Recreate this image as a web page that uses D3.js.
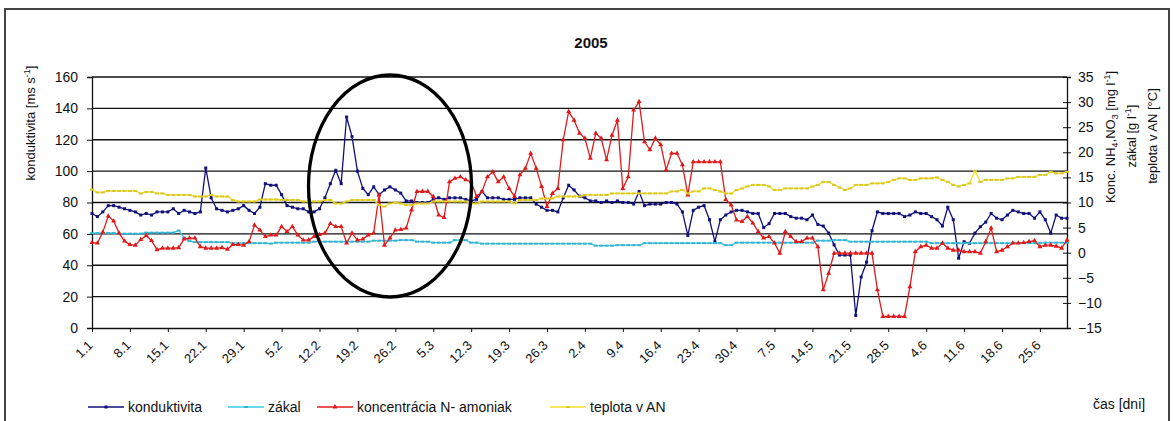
<!DOCTYPE html>
<html>
<head>
<meta charset="utf-8">
<script src="https://cdn.jsdelivr.net/npm/d3@7"></script>
<style>
  body { margin: 0; background: #fff; }
  svg { font-family: "Liberation Sans", Arial, sans-serif; }
</style>
</head>
<body>
<script>
// daily readings 1.1.2005 - 30.6.2005
const days = d3.timeDay.range(new Date(2005, 0, 1), new Date(2005, 6, 1));
const categories = days.map(d3.timeFormat("%-d.%-m"));
const tickLabels = ["1.1","8.1","15.1","22.1","29.1","5.2","12.2","19.2","26.2","5.3","12.3","19.3","26.3",
  "2.4","9.4","16.4","23.4","30.4","7.5","14.5","21.5","28.5","4.6","11.6","18.6","25.6"];

// konduktivita [ms s-1] (left axis)
const konduktivita = [
  73, 71, 74, 78, 78, 77, 76, 75, 74, 72,
  73, 72, 74, 74, 74, 76, 73, 75, 74, 73,
  74, 102, 83, 76, 75, 74, 75, 76, 78, 75,
  73, 77, 92, 91, 91, 85, 78, 77, 76, 76,
  74, 74, 76, 83, 92, 100.5, 92, 134.5, 122, 100,
  89, 85, 90, 85, 88, 90, 88, 86, 81, 81,
  80, 80, 80, 82, 83, 82, 83, 83, 83, 82,
  81, 82, 87, 83, 83, 83, 82, 82, 82, 83,
  83, 83, 79, 77, 75, 75, 74, 83, 91, 88,
  84, 83, 81, 81, 80, 81, 80, 81, 80, 80,
  79, 87, 78, 79, 79, 79, 80, 80, 79, 74,
  59, 75, 77, 78, 69, 55, 69, 72, 74, 75,
  75, 74, 73, 73, 64, 66.5, 73, 73, 73, 71,
  70, 70, 69, 72, 66, 65, 60.5, 53, 46.5, 46.5,
  46.5, 8, 32.5, 42, 62, 74, 73, 73, 73, 73,
  71, 72, 74, 73, 73, 71, 69, 65, 77, 69,
  44.5, 55, 54, 60.5, 64.5, 67.5, 73, 70, 69, 72,
  75, 74, 73, 73, 70, 74, 69, 60.5, 72, 70,
  70
];

// zákal [g l-1] (right axis)
const zakal = [
  3.9, 3.9, 3.9, 3.9, 3.9, 3.8, 3.8, 3.8, 3.8, 3.8,
  4.0, 4.0, 4.0, 4.0, 4.0, 4.0, 4.4, 3.0, 2.3, 2.1,
  2.1, 2.1, 2.1, 2.1, 2.1, 2.1, 1.9, 1.9, 1.9, 1.9,
  1.9, 1.9, 1.9, 1.8, 2.0, 2.0, 2.0, 2.0, 2.0, 2.0,
  2.0, 2.2, 2.2, 2.2, 2.2, 2.2, 2.2, 2.2, 2.2, 2.2,
  2.2, 2.2, 2.4, 2.4, 2.4, 2.4, 2.4, 2.5, 2.5, 2.5,
  2.2, 2.2, 2.2, 2.0, 2.0, 2.0, 2.0, 2.5, 2.5, 2.5,
  2.0, 2.0, 1.8, 1.8, 1.8, 1.8, 1.8, 1.8, 1.8, 1.8,
  1.8, 1.8, 1.8, 1.8, 1.8, 1.8, 1.8, 1.8, 1.8, 1.8,
  1.8, 1.8, 1.8, 1.4, 1.4, 1.4, 1.4, 1.5, 1.5, 1.5,
  1.5, 1.5, 1.9, 1.9, 1.9, 1.9, 1.9, 1.9, 1.9, 1.9,
  1.9, 1.9, 1.9, 1.9, 1.9, 1.9, 1.9, 1.5, 1.5, 2.0,
  2.0, 2.0, 2.0, 2.0, 2.0, 2.0, 2.0, 2.0, 2.0, 2.0,
  2.0, 2.0, 2.0, 2.0, 2.4, 2.4, 2.4, 2.5, 2.5, 2.5,
  2.2, 2.2, 2.2, 2.2, 2.2, 2.2, 2.2, 2.2, 2.2, 2.2,
  2.2, 2.2, 2.2, 2.2, 2.2, 1.9, 1.9, 1.9, 1.9, 1.9,
  1.9, 1.9, 1.9, 1.9, 1.9, 1.9, 1.9, 1.9, 1.9, 1.9,
  1.9, 1.9, 1.9, 1.9, 1.9, 1.9, 2.0, 2.0, 2.0, 2.0,
  2.0
];

// koncentrácia N- amoniak [mg l-1] (right axis)
const amoniak = [
  2.0, 1.9, 4.1, 7.3, 6.3, 3.9, 2.3, 1.6, 1.5, 2.6,
  3.4, 2.4, 0.6, 0.9, 0.9, 0.9, 1.0, 2.7, 2.9, 2.9,
  1.2, 0.9, 0.9, 0.9, 1.0, 0.7, 1.6, 1.6, 1.5, 2.2,
  5.5, 4.5, 3.2, 3.5, 3.5, 5.2, 4.2, 5.2, 3.5, 2.5,
  2.5, 3.2, 3.6, 3.9, 5.8, 5.2, 5.2, 1.9, 3.9, 2.5,
  2.7, 3.5, 3.9, 11.5, 1.5, 2.9, 4.5, 4.6, 4.9, 8.5,
  12.2, 12.2, 12.2, 11.2, 7.5, 7.0, 14.1, 14.8, 15.1, 14.5,
  14.1, 11.2, 12.2, 15.1, 16.1, 14.1, 15.1, 12.8, 11.2, 15.5,
  16.8, 19.8, 16.8, 13.2, 9.2, 11.8, 12.8, 22.5, 28.1, 26.4,
  23.8, 22.8, 18.8, 23.8, 22.8, 18.5, 23.4, 26.4, 12.8, 15.1,
  28.4, 30.1, 22.1, 20.5, 22.8, 21.5, 16.5, 19.8, 19.8, 17.5,
  11.5, 18.1, 18.1, 18.1, 18.1, 18.1, 18.1, 10.6, 9.5, 6.5,
  6.2, 7.2, 5.9, 4.2, 2.9, 3.2, 1.9, -0.1, 4.2, 3.2,
  2.2, 2.2, 2.9, 2.9, 1.2, -7.4, -4.1, -0.1, -0.1, -0.1,
  -0.1, -0.1, -0.1, -0.1, -0.1, -7.4, -12.7, -12.7, -12.7, -12.7,
  -12.7, -6.8, 0.2, 1.2, 1.5, 0.9, 0.9, 1.9, 0.9, 0.5,
  0.5, 0.2, 0.2, 0.2, -0.1, 2.2, 4.9, 0.2, 0.5, 1.2,
  1.9, 1.9, 2.0, 2.2, 2.4, 1.2, 1.5, 1.5, 1.3, 0.9,
  2.5
];

// teplota v AN [°C] (right axis)
const teplota = [
  12.6, 12.0, 12.0, 12.3, 12.3, 12.3, 12.3, 12.3, 12.3, 11.8,
  12.1, 12.1, 11.8, 11.8, 11.5, 11.5, 11.5, 11.5, 11.5, 11.2,
  11.2, 11.2, 11.5, 11.2, 11.2, 11.2, 10.5, 10.2, 10.2, 10.2,
  10.2, 10.6, 10.6, 10.6, 10.6, 10.5, 10.5, 10.5, 10.5, 10.2,
  10.2, 10.2, 10.2, 10.5, 10.5, 9.8, 9.8, 10.2, 10.5, 10.5,
  10.5, 10.5, 10.5, 9.5, 9.2, 9.8, 10.0, 9.8, 9.5, 9.5,
  9.8, 9.8, 9.8, 10.2, 10.2, 10.2, 10.2, 10.2, 10.2, 10.2,
  9.8, 9.8, 10.2, 10.2, 10.2, 10.2, 10.2, 10.2, 9.8, 10.5,
  10.5, 10.5, 10.5, 10.8, 10.8, 10.8, 11.2, 11.2, 11.2, 11.2,
  11.2, 11.5, 11.5, 11.5, 11.5, 11.5, 11.8, 11.8, 11.8, 11.8,
  11.8, 11.8, 11.8, 11.8, 11.8, 11.8, 11.8, 12.2, 12.2, 12.5,
  11.8, 12.2, 12.2, 12.8, 12.8, 12.5, 12.2, 11.8, 11.8, 12.5,
  12.8, 13.2, 13.5, 13.5, 13.5, 13.2, 12.5, 12.5, 12.8, 12.8,
  12.8, 12.8, 12.8, 13.2, 13.5, 14.1, 14.1, 13.5, 13.0, 12.5,
  12.8, 13.5, 13.5, 13.5, 13.8, 13.8, 13.8, 14.1, 14.5, 14.8,
  14.8, 14.5, 14.5, 14.8, 14.8, 14.8, 15.0, 14.5, 14.1, 13.5,
  13.2, 13.5, 13.8, 16.3, 14.1, 14.5, 14.5, 14.5, 14.5, 14.8,
  14.8, 15.1, 15.1, 15.1, 15.1, 15.5, 15.5, 16.1, 15.8, 15.8,
  16.1
];

const width = 1174, height = 421;
const plotLeft = 92, plotRight = 1067, plotTop = 77, plotBottom = 328;

const svg = d3.select("body").append("svg")
  .attr("width", width)
  .attr("height", height);

svg.append("rect").attr("width", width).attr("height", height).attr("fill", "#fff");

// outer frame
svg.append("rect")
  .attr("x", 5).attr("y", 9)
  .attr("width", 1164).attr("height", 430)
  .attr("fill", "none")
  .attr("stroke", "#444")
  .attr("stroke-width", 2);

const x = d3.scalePoint().domain(categories).range([plotLeft, plotRight]);
const yL = d3.scaleLinear().domain([0, 160]).range([plotBottom, plotTop]);
const yR = d3.scaleLinear().domain([-15, 35]).range([plotBottom, plotTop]);

// gridlines
svg.append("g")
  .selectAll("line")
  .data(d3.range(20, 161, 20))
  .join("line")
  .attr("x1", plotLeft).attr("x2", plotRight)
  .attr("y1", d => yL(d)).attr("y2", d => yL(d))
  .attr("stroke", "#111")
  .attr("stroke-width", 1.3);

// left axis
svg.append("g")
  .attr("transform", `translate(${plotLeft},0)`)
  .call(d3.axisLeft(yL).tickValues(d3.range(0, 161, 20)).tickSize(5).tickPadding(9))
  .call(g => g.select(".domain").attr("stroke", "#111").attr("stroke-width", 1.3))
  .call(g => g.selectAll(".tick line").attr("stroke", "#111"))
  .call(g => g.selectAll("text").attr("font-size", 14).attr("fill", "#111").attr("font-family", null));

// right axis
svg.append("g")
  .attr("transform", `translate(${plotRight},0)`)
  .call(d3.axisRight(yR).tickValues(d3.range(-15, 36, 5)).tickSize(4).tickPadding(7))
  .call(g => g.select(".domain").attr("stroke", "#111").attr("stroke-width", 1.3))
  .call(g => g.selectAll(".tick line").attr("x1", -4).attr("stroke", "#111"))
  .call(g => g.selectAll("text").attr("font-size", 14).attr("fill", "#111").attr("font-family", null));

// bottom axis
svg.append("g")
  .attr("transform", `translate(0,${plotBottom})`)
  .call(d3.axisBottom(x).tickValues(tickLabels).tickSize(4).tickSizeOuter(0))
  .call(g => g.select(".domain").attr("stroke", "#111").attr("stroke-width", 1.3))
  .call(g => g.selectAll(".tick line").attr("stroke", "#111"))
  .call(g => g.selectAll("text")
    .attr("font-size", 13).attr("fill", "#111").attr("font-family", null)
    .attr("text-anchor", "end")
    .attr("x", -12).attr("y", 9).attr("dy", "0.35em")
    .attr("transform", "rotate(-45)"));

// series
const series = [
  { name: "konduktivita", values: konduktivita, y: yL, color: "#10107a", marker: "square" },
  { name: "zákal", values: zakal, y: yR, color: "#3cc8e6", marker: "dash" },
  { name: "koncentrácia N- amoniak", values: amoniak, y: yR, color: "#e01a1a", marker: "triangle" },
  { name: "teplota v AN", values: teplota, y: yR, color: "#f2df2a", marker: "dash" }
];

const tri = d3.symbol().type(d3.symbolTriangle).size(11);

function drawMarker(sel, s) {
  if (s.marker === "triangle") {
    sel.append("path").attr("d", tri).attr("fill", s.color);
  } else if (s.marker === "square") {
    sel.append("rect").attr("x", -1.5).attr("y", -1.5).attr("width", 3).attr("height", 3).attr("fill", s.color);
  } else {
    sel.append("rect").attr("x", -2).attr("y", -1).attr("width", 4).attr("height", 2).attr("fill", d3.color(s.color).darker(0.3));
  }
}

series.forEach(s => {
  const g = svg.append("g");
  const line = d3.line()
    .x((d, i) => x(categories[i]))
    .y(d => s.y(d));
  g.append("path")
    .datum(s.values)
    .attr("d", line)
    .attr("fill", "none")
    .attr("stroke", s.color)
    .attr("stroke-width", 1.3);
  g.selectAll("g.pt")
    .data(s.values)
    .join("g")
    .attr("class", "pt")
    .attr("transform", (d, i) => `translate(${x(categories[i])},${s.y(d)})`)
    .each(function() { drawMarker(d3.select(this), s); });
});

// highlight ellipse
svg.append("ellipse")
  .attr("cx", 390).attr("cy", 186)
  .attr("rx", 81.5).attr("ry", 111)
  .attr("fill", "none")
  .attr("stroke", "#000")
  .attr("stroke-width", 3.3);

// title
svg.append("text")
  .attr("x", 591).attr("y", 48)
  .attr("text-anchor", "middle")
  .attr("font-size", 15).attr("font-weight", "bold")
  .attr("fill", "#111")
  .text("2005");

// axis titles
const lt = svg.append("text")
  .attr("transform", "translate(35,123) rotate(-90)")
  .attr("text-anchor", "middle")
  .attr("font-size", 13).attr("fill", "#111");
lt.append("tspan").text("konduktivita [ms s");
lt.append("tspan").attr("font-size", 9).attr("dy", -5).text("-1");
lt.append("tspan").attr("dy", 5).text("]");

const r1 = svg.append("text")
  .attr("transform", "translate(1115,137) rotate(-90)")
  .attr("text-anchor", "middle")
  .attr("font-size", 13).attr("fill", "#111");
r1.append("tspan").text("Konc. NH");
r1.append("tspan").attr("font-size", 9).attr("dy", 3).text("4");
r1.append("tspan").attr("dy", -3).text(",NO");
r1.append("tspan").attr("font-size", 9).attr("dy", 3).text("3");
r1.append("tspan").attr("dy", -3).text("  [mg l");
r1.append("tspan").attr("font-size", 9).attr("dy", -5).text("-1");
r1.append("tspan").attr("dy", 5).text("]");

const r2 = svg.append("text")
  .attr("transform", "translate(1136,136) rotate(-90)")
  .attr("text-anchor", "middle")
  .attr("font-size", 13).attr("fill", "#111");
r2.append("tspan").text("zákal [g l");
r2.append("tspan").attr("font-size", 9).attr("dy", -5).text("-1");
r2.append("tspan").attr("dy", 5).text("]");

svg.append("text")
  .attr("transform", "translate(1157,136) rotate(-90)")
  .attr("text-anchor", "middle")
  .attr("font-size", 13).attr("fill", "#111")
  .text("teplota v AN [°C]");

svg.append("text")
  .attr("x", 1093).attr("y", 409)
  .attr("font-size", 14).attr("fill", "#111")
  .text("čas [dni]");

// legend
const legendX = [88, 228, 317, 550];
const legend = svg.append("g")
  .selectAll("g")
  .data(series)
  .join("g")
  .attr("transform", (d, i) => `translate(${legendX[i]},407)`);
legend.append("line")
  .attr("x1", 0).attr("x2", 36)
  .attr("stroke", d => d.color)
  .attr("stroke-width", 1.3);
legend.append("g")
  .attr("transform", "translate(18,0)")
  .each(function(d) { drawMarker(d3.select(this), d); });
legend.append("text")
  .attr("x", 40).attr("dy", "0.35em")
  .attr("font-size", 14).attr("fill", "#111")
  .text(d => d.name);
</script>
</body>
</html>
